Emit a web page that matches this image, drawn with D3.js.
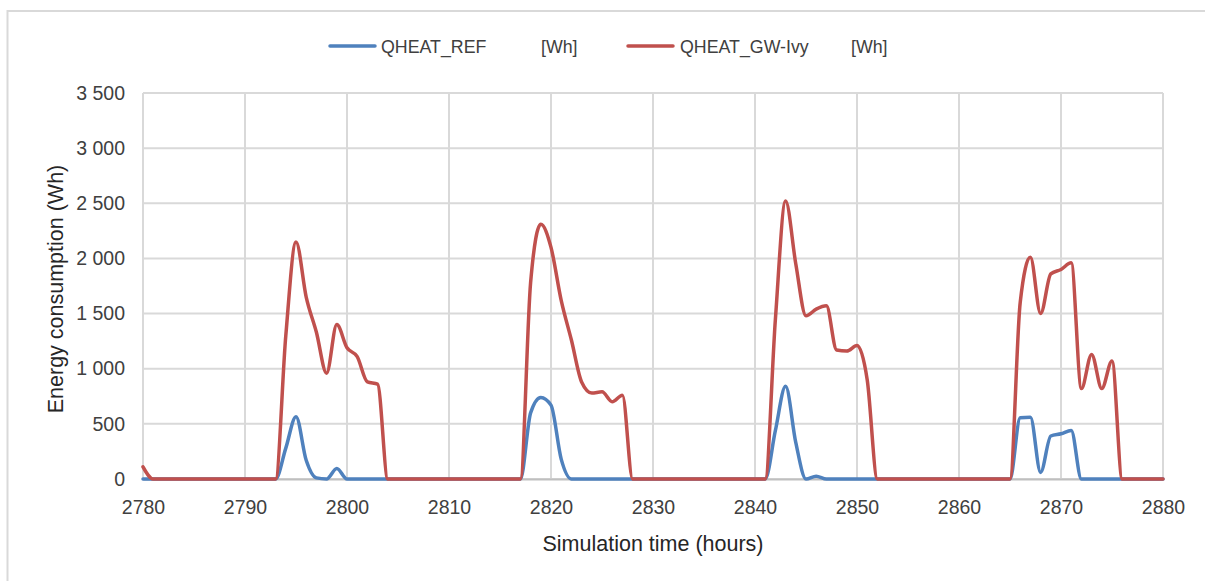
<!DOCTYPE html>
<html>
<head>
<meta charset="utf-8">
<script src="https://cdn.jsdelivr.net/npm/d3@7"></script>
<style>
  html, body { margin: 0; padding: 0; background: #fff; }
  svg { display: block; font-family: "Liberation Sans", Arial, sans-serif; }
</style>
</head>
<body>
<svg id="chart" width="1205" height="581"></svg>
<script>
// ---- data ----
const hours = d3.range(2780, 2881); // simulation hours 2780..2880
const qheatRef = [
  0, 0, 0, 0, 0, 0, 0, 0, 0, 0,          // 2780-2789
  0, 0, 0, 0, 280, 565, 170, 10, 0, 95,  // 2790-2799
  0, 0, 0, 0, 0, 0, 0, 0, 0, 0,          // 2800-2809
  0, 0, 0, 0, 0, 0, 0, 0, 600, 740,      // 2810-2819
  670, 180, 0, 0, 0, 0, 0, 0, 0, 0,      // 2820-2829
  0, 0, 0, 0, 0, 0, 0, 0, 0, 0,          // 2830-2839
  0, 0, 440, 840, 330, 0, 25, 0, 0, 0,   // 2840-2849
  0, 0, 0, 0, 0, 0, 0, 0, 0, 0,          // 2850-2859
  0, 0, 0, 0, 0, 0, 555, 560, 60, 390,   // 2860-2869
  410, 440, 0, 0, 0, 0, 0, 0, 0, 0,      // 2870-2879
  0                                      // 2880
];
const qheatGW = [
  110, 0, 0, 0, 0, 0, 0, 0, 0, 0,                  // 2780-2789
  0, 0, 0, 0, 1300, 2150, 1650, 1330, 960, 1400,   // 2790-2799
  1190, 1110, 880, 860, 0, 0, 0, 0, 0, 0,          // 2800-2809
  0, 0, 0, 0, 0, 0, 0, 0, 1780, 2310,              // 2810-2819
  2100, 1620, 1260, 880, 780, 790, 700, 760, 0, 0, // 2820-2829
  0, 0, 0, 0, 0, 0, 0, 0, 0, 0,                    // 2830-2839
  0, 0, 1450, 2520, 1950, 1480, 1540, 1570, 1170, 1160, // 2840-2849
  1210, 900, 0, 0, 0, 0, 0, 0, 0, 0,               // 2850-2859
  0, 0, 0, 0, 0, 0, 1600, 2010, 1500, 1860,        // 2860-2869
  1900, 1960, 820, 1130, 820, 1070, 0, 0, 0, 0,    // 2870-2879
  0                                                // 2880
];
const xTicks = [2780, 2790, 2800, 2810, 2820, 2830, 2840, 2850, 2860, 2870, 2880];
const yTicks = [0, 500, 1000, 1500, 2000, 2500, 3000, 3500];
const seriesNames = ["QHEAT_REF", "QHEAT_GW-Ivy"];
const seriesUnits = ["[Wh]", "[Wh]"];
const seriesColors = ["#4F81BD", "#C0504D"];
const xTitle = "Simulation time (hours)";
const yTitle = "Energy consumption (Wh)";

// ---- layout ----
const svg = d3.select("#chart");
const plot = { left: 143, right: 1163, top: 93, bottom: 479 };

const x = d3.scaleLinear().domain([2780, 2880]).range([plot.left, plot.right]);
const y = d3.scaleLinear().domain([0, 3500]).range([plot.bottom, plot.top]);

// outer frame
svg.append("rect")
  .attr("x", 7.5).attr("y", 11).attr("width", 1210).attr("height", 600)
  .attr("fill", "none").attr("stroke", "#d9d9d9").attr("stroke-width", 2);

// gridlines
const grid = svg.append("g");
grid.selectAll("line.h").data(yTicks).join("line")
  .attr("x1", plot.left).attr("x2", plot.right)
  .attr("y1", d => y(d)).attr("y2", d => y(d))
  .attr("stroke", "#d9d9d9").attr("stroke-width", 2);
grid.selectAll("line.v").data(xTicks).join("line")
  .attr("x1", d => x(d)).attr("x2", d => x(d))
  .attr("y1", plot.top).attr("y2", plot.bottom)
  .attr("stroke", "#d9d9d9").attr("stroke-width", 2);

// x axis
const fmtY = v => d3.format(",")(v).replace(/,/g, "\u00a0");
const xAxis = svg.append("g")
  .attr("transform", `translate(0,${plot.bottom})`)
  .call(d3.axisBottom(x).tickValues(xTicks).tickSize(0).tickPadding(21).tickFormat(d3.format("d")));
xAxis.select(".domain").attr("stroke", "#bfbfbf").attr("stroke-width", 2);
xAxis.selectAll("text").attr("font-size", 19.5).attr("fill", "#404040")
  .attr("font-family", "Liberation Sans, Arial, sans-serif");

// y axis
const yAxis = svg.append("g")
  .attr("transform", `translate(${plot.left},0)`)
  .call(d3.axisLeft(y).tickValues(yTicks).tickSize(0).tickPadding(18).tickFormat(fmtY));
yAxis.select(".domain").remove();
yAxis.selectAll("text").attr("font-size", 19.5).attr("fill", "#404040")
  .attr("font-family", "Liberation Sans, Arial, sans-serif");

// axis titles
svg.append("text")
  .attr("x", (plot.left + plot.right) / 2).attr("y", 551)
  .attr("text-anchor", "middle").attr("font-size", 21.5).attr("fill", "#262626")
  .text(xTitle);
svg.append("text")
  .attr("transform", `translate(63,${(plot.top + plot.bottom) / 2 + 3}) rotate(-90)`)
  .attr("text-anchor", "middle").attr("font-size", 21.5).attr("fill", "#262626")
  .text(yTitle);

// lines
const line = d3.line()
  .x((d, i) => x(hours[i]))
  .y(d => y(d))
  .curve(d3.curveMonotoneX);
[qheatRef, qheatGW].forEach((vals, k) => {
  svg.append("path")
    .datum(vals)
    .attr("d", line)
    .attr("fill", "none")
    .attr("stroke", seriesColors[k])
    .attr("stroke-width", 3.5)
    .attr("stroke-linejoin", "round")
    .attr("stroke-linecap", "round");
});

// legend
const legendItems = [
  { lx: 330, tx: 381, ux: 541 },
  { lx: 628, tx: 680, ux: 851 }
];
const legend = svg.append("g");
legendItems.forEach((p, k) => {
  legend.append("line")
    .attr("x1", p.lx).attr("x2", p.lx + 45)
    .attr("y1", 46).attr("y2", 46)
    .attr("stroke", seriesColors[k]).attr("stroke-width", 3.5)
    .attr("stroke-linecap", "round");
  legend.append("text")
    .attr("x", p.tx).attr("y", 52.5)
    .attr("font-size", 17.8).attr("fill", "#404040")
    .text(seriesNames[k]);
  legend.append("text")
    .attr("x", p.ux).attr("y", 52.5)
    .attr("font-size", 17.8).attr("fill", "#404040")
    .text(seriesUnits[k]);
});
</script>
</body>
</html>
